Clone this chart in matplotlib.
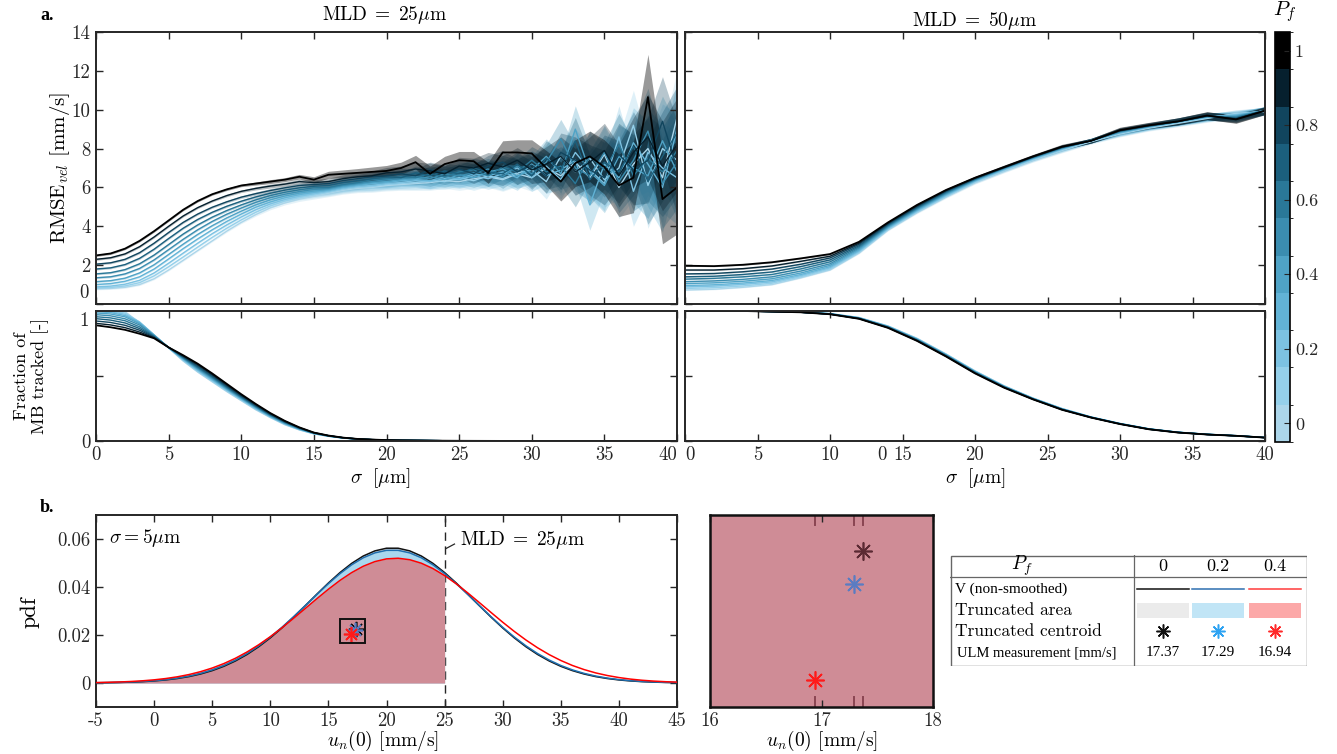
import numpy as np
import matplotlib
matplotlib.use("Agg")
import matplotlib.pyplot as plt
from matplotlib.colors import ListedColormap, BoundaryNorm
from matplotlib.cm import ScalarMappable
from matplotlib.patches import Rectangle

plt.rcParams['font.family'] = 'serif'
plt.rcParams['font.serif'] = ['cmr10', 'DejaVu Serif']
plt.rcParams['mathtext.fontset'] = 'cm'
plt.rcParams['axes.formatter.use_mathtext'] = True
plt.rcParams['axes.unicode_minus'] = False

# ---------------- data ----------------
pf_levels = [0.0, 0.1, 0.2, 0.3, 0.4, 0.5, 0.6, 0.7, 0.8, 0.9, 1.0]
pf_colors = ['#acd6ea', '#95d0ea', '#7cc2e2', '#62b3d6', '#4fa3c6', '#3b8db0',
             '#2a7898', '#1b5f7d', '#11455e', '#06202e', '#000000']

# RMSE, MLD = 25 um, sigma = 0..40 step 1
sigma_25 = list(range(41))
rmse_25 = [
    [0.78, 0.80, 0.86, 1.00, 1.30, 1.75, 2.25, 2.75, 3.25, 3.75, 4.20, 4.60, 4.95, 5.20, 5.40, 5.55,
     5.70, 5.85, 5.95, 6.00, 6.10, 6.15, 6.20, 6.25, 6.35, 6.30, 6.45, 6.55, 6.40, 6.70, 6.50,
     7.00, 6.60, 7.30, 6.50, 7.70, 6.00, 7.20, 8.00, 6.50, 9.60],
    [0.82, 0.85, 0.93, 1.10, 1.45, 1.92, 2.42, 2.93, 3.43, 3.90, 4.33, 4.72, 5.05, 5.30, 5.48, 5.62,
     5.75, 5.90, 6.00, 6.05, 6.15, 6.20, 6.25, 6.35, 6.30, 6.50, 6.35, 6.60, 6.45, 6.75, 6.90,
     6.30, 7.60, 6.80, 7.50, 6.40, 7.00, 9.20, 6.10, 8.00, 7.40],
    [0.88, 0.92, 1.02, 1.22, 1.60, 2.10, 2.62, 3.13, 3.62, 4.07, 4.48, 4.85, 5.15, 5.38, 5.55, 5.68,
     5.80, 5.95, 6.05, 6.10, 6.20, 6.25, 6.35, 6.30, 6.45, 6.40, 6.60, 6.45, 6.70, 7.00, 6.50,
     7.10, 6.40, 7.80, 6.90, 6.20, 8.60, 5.80, 7.80, 7.00, 6.50],
    [1.00, 1.05, 1.17, 1.40, 1.80, 2.32, 2.85, 3.35, 3.82, 4.25, 4.63, 4.98, 5.25, 5.47, 5.63, 5.75,
     5.85, 6.00, 6.10, 6.20, 6.25, 6.35, 6.40, 6.35, 6.55, 6.45, 6.70, 6.60, 6.80, 6.50, 7.20,
     6.60, 6.90, 7.40, 5.10, 7.20, 6.50, 8.30, 7.20, 6.00, 9.00],
    [1.15, 1.20, 1.33, 1.60, 2.02, 2.55, 3.08, 3.58, 4.03, 4.43, 4.78, 5.10, 5.36, 5.56, 5.71, 5.82,
     5.90, 6.05, 6.15, 6.25, 6.30, 6.40, 6.45, 6.55, 6.40, 6.65, 6.50, 6.80, 6.95, 6.60, 6.90,
     7.60, 6.70, 9.00, 6.80, 6.10, 7.60, 7.00, 6.60, 8.40, 6.80],
    [1.35, 1.40, 1.55, 1.83, 2.27, 2.80, 3.33, 3.82, 4.25, 4.62, 4.94, 5.23, 5.47, 5.65, 5.79, 5.90,
     5.95, 6.10, 6.20, 6.30, 6.40, 6.45, 6.55, 6.45, 6.70, 6.60, 6.75, 6.95, 6.55, 7.10, 6.70,
     7.30, 8.50, 7.00, 6.60, 7.80, 6.30, 7.40, 8.90, 6.20, 7.30],
    [1.55, 1.61, 1.77, 2.07, 2.52, 3.06, 3.60, 4.07, 4.47, 4.81, 5.10, 5.36, 5.58, 5.75, 5.88, 5.98,
     6.00, 6.15, 6.25, 6.40, 6.45, 6.55, 6.50, 6.70, 6.55, 6.80, 6.90, 6.60, 7.05, 6.80, 7.40,
     6.80, 7.10, 6.20, 7.60, 6.90, 8.20, 6.60, 7.50, 6.80, 7.90],
    [1.80, 1.86, 2.03, 2.35, 2.82, 3.37, 3.90, 4.35, 4.72, 5.03, 5.29, 5.51, 5.70, 5.86, 5.98, 6.06,
     6.10, 6.25, 6.35, 6.45, 6.55, 6.50, 6.75, 6.60, 6.85, 6.70, 7.00, 6.80, 6.70, 7.20, 6.60,
     7.50, 6.90, 8.40, 6.40, 7.30, 6.80, 8.10, 6.30, 7.60, 8.80],
    [2.05, 2.12, 2.30, 2.64, 3.13, 3.68, 4.20, 4.63, 4.98, 5.26, 5.50, 5.68, 5.84, 5.98, 6.10, 6.15,
     6.20, 6.35, 6.45, 6.55, 6.60, 6.70, 6.60, 6.90, 6.75, 6.95, 6.70, 7.10, 7.30, 6.80, 7.15,
     6.60, 7.80, 7.40, 6.90, 6.50, 7.70, 6.90, 7.40, 9.40, 7.00],
    [2.30, 2.38, 2.58, 2.95, 3.45, 4.00, 4.53, 4.96, 5.30, 5.58, 5.80, 5.95, 6.07, 6.17, 6.30, 6.25,
     6.30, 6.45, 6.55, 6.60, 6.75, 6.80, 6.95, 6.85, 6.70, 7.10, 7.00, 7.25, 7.05, 7.40, 6.90,
     7.20, 7.60, 6.80, 7.30, 7.90, 6.60, 7.80, 8.60, 7.10, 8.20],
    [2.50, 2.60, 2.85, 3.25, 3.75, 4.30, 4.85, 5.30, 5.65, 5.90, 6.10, 6.20, 6.30, 6.40, 6.55, 6.40,
     6.65, 6.70, 6.75, 6.80, 6.85, 7.00, 7.30, 6.70, 7.20, 7.40, 7.35, 6.75, 7.80, 7.80, 7.75,
     7.00, 6.30, 7.25, 7.60, 7.05, 6.10, 6.50, 10.65, 5.40, 6.00],
]
rmse_25_std = [0.05, 0.05, 0.05, 0.05, 0.05, 0.05, 0.05, 0.05, 0.05, 0.06, 0.06,
               0.08, 0.10, 0.10, 0.12, 0.15, 0.18, 0.20, 0.22, 0.25, 0.28,
               0.30, 0.35, 0.40, 0.40, 0.45, 0.50, 0.55, 0.60, 0.65, 0.70,
               0.90, 1.00, 1.20, 1.30, 1.40, 1.60, 1.80, 2.20, 2.30, 2.40]

# RMSE, MLD = 50 um, sigma = 0..40 step 2
sigma_50 = list(range(0, 41, 2))
rmse_50 = [
    [0.72, 0.76, 0.86, 1.00, 1.35, 1.75, 2.62, 3.80, 4.70, 5.50, 6.25, 6.85, 7.40, 7.90, 8.35, 8.75, 9.05, 9.30, 9.55, 9.80, 9.90],
    [0.80, 0.84, 0.93, 1.07, 1.40, 1.80, 2.66, 3.84, 4.74, 5.54, 6.28, 6.88, 7.43, 7.93, 8.38, 8.78, 9.08, 9.33, 9.58, 9.78, 9.92],
    [0.88, 0.92, 1.01, 1.14, 1.46, 1.86, 2.71, 3.88, 4.78, 5.58, 6.31, 6.91, 7.46, 7.96, 8.40, 8.80, 9.10, 9.35, 9.60, 9.75, 9.94],
    [0.95, 0.99, 1.08, 1.21, 1.52, 1.92, 2.76, 3.92, 4.82, 5.62, 6.34, 6.94, 7.49, 7.99, 8.42, 8.82, 9.12, 9.37, 9.62, 9.72, 9.95],
    [1.05, 1.09, 1.17, 1.30, 1.60, 1.99, 2.82, 3.96, 4.86, 5.66, 6.37, 6.97, 7.51, 8.01, 8.41, 8.85, 9.14, 9.38, 9.64, 9.68, 9.96],
    [1.15, 1.19, 1.27, 1.40, 1.70, 2.07, 2.88, 4.00, 4.90, 5.70, 6.40, 6.99, 7.53, 8.03, 8.41, 8.87, 9.15, 9.39, 9.65, 9.64, 9.96],
    [1.28, 1.32, 1.40, 1.52, 1.81, 2.17, 2.94, 4.04, 4.94, 5.74, 6.42, 7.00, 7.55, 8.05, 8.40, 8.89, 9.16, 9.39, 9.66, 9.60, 9.96],
    [1.40, 1.43, 1.52, 1.65, 1.93, 2.27, 3.00, 4.08, 4.98, 5.78, 6.44, 7.01, 7.56, 8.06, 8.40, 8.91, 9.17, 9.40, 9.67, 9.57, 9.96],
    [1.55, 1.57, 1.66, 1.80, 2.05, 2.37, 3.07, 4.12, 5.02, 5.81, 6.46, 7.02, 7.57, 8.07, 8.40, 8.92, 9.18, 9.40, 9.68, 9.54, 9.95],
    [1.75, 1.75, 1.82, 1.96, 2.20, 2.46, 3.13, 4.16, 5.06, 5.84, 6.48, 7.03, 7.58, 8.08, 8.40, 8.93, 9.19, 9.40, 9.69, 9.52, 9.95],
    [1.97, 1.95, 2.02, 2.15, 2.35, 2.57, 3.20, 4.20, 5.10, 5.87, 6.50, 7.05, 7.60, 8.10, 8.40, 8.95, 9.20, 9.40, 9.70, 9.50, 9.95],
]
rmse_50_std = [0.03, 0.03, 0.03, 0.03, 0.03, 0.03, 0.04, 0.04, 0.05, 0.06, 0.08,
               0.10, 0.10, 0.12, 0.12, 0.15, 0.15, 0.18, 0.20, 0.20, 0.20]

# fraction of MB tracked, MLD = 25 um: sigma 0..20 per curve, shared tail 21..40
frac_25_head = [
    [1.000, 1.000, 0.995, 0.910, 0.815, 0.715, 0.615, 0.530, 0.455, 0.380, 0.310, 0.240, 0.180, 0.125, 0.085, 0.055, 0.036, 0.022, 0.014, 0.009, 0.006],
    [1.000, 0.998, 0.985, 0.915, 0.815, 0.716, 0.620, 0.536, 0.461, 0.386, 0.315, 0.245, 0.183, 0.128, 0.087, 0.056, 0.037, 0.023, 0.014, 0.009, 0.006],
    [1.000, 0.995, 0.975, 0.915, 0.816, 0.717, 0.625, 0.542, 0.467, 0.392, 0.320, 0.249, 0.186, 0.131, 0.089, 0.057, 0.037, 0.023, 0.015, 0.010, 0.006],
    [0.995, 0.988, 0.965, 0.910, 0.815, 0.718, 0.630, 0.548, 0.473, 0.397, 0.324, 0.254, 0.189, 0.134, 0.091, 0.058, 0.038, 0.023, 0.015, 0.010, 0.006],
    [0.985, 0.977, 0.955, 0.902, 0.812, 0.719, 0.634, 0.554, 0.479, 0.402, 0.329, 0.258, 0.193, 0.137, 0.093, 0.059, 0.039, 0.024, 0.015, 0.010, 0.006],
    [0.972, 0.963, 0.940, 0.892, 0.810, 0.720, 0.638, 0.560, 0.485, 0.407, 0.333, 0.262, 0.196, 0.140, 0.095, 0.060, 0.039, 0.024, 0.015, 0.010, 0.006],
    [0.956, 0.947, 0.925, 0.878, 0.806, 0.720, 0.642, 0.566, 0.491, 0.413, 0.338, 0.266, 0.200, 0.143, 0.097, 0.061, 0.040, 0.025, 0.015, 0.010, 0.007],
    [0.941, 0.930, 0.908, 0.865, 0.802, 0.720, 0.646, 0.572, 0.497, 0.418, 0.342, 0.270, 0.203, 0.146, 0.099, 0.062, 0.040, 0.025, 0.016, 0.010, 0.007],
    [0.923, 0.912, 0.890, 0.852, 0.798, 0.720, 0.650, 0.580, 0.505, 0.425, 0.348, 0.275, 0.207, 0.149, 0.101, 0.063, 0.041, 0.025, 0.016, 0.011, 0.007],
    [0.905, 0.893, 0.872, 0.838, 0.794, 0.720, 0.655, 0.588, 0.512, 0.432, 0.354, 0.280, 0.211, 0.152, 0.103, 0.064, 0.041, 0.026, 0.016, 0.011, 0.007],
    [0.890, 0.875, 0.855, 0.825, 0.790, 0.720, 0.660, 0.595, 0.520, 0.440, 0.360, 0.285, 0.215, 0.155, 0.105, 0.065, 0.042, 0.026, 0.016, 0.011, 0.007],
]
frac_25_tail = [0.005, 0.004, 0.003, 0.0022, 0.0016, 0.0012, 0.0009, 0.0007, 0.0005, 0.0004,
                0.0003, 0.0002, 0.0002, 0.0001, 0.0001, 0.0001, 0.0, 0.0, 0.0, 0.0]

# fraction of MB tracked, MLD = 50 um, sigma 0..40 step 2
frac_50 = [
    [1.000, 1.000, 1.000, 0.997, 0.992, 0.980, 0.950, 0.885, 0.790, 0.670, 0.540, 0.425, 0.330, 0.250, 0.185, 0.135, 0.094, 0.068, 0.052, 0.041, 0.027],
    [1.000, 1.000, 1.000, 0.997, 0.992, 0.980, 0.949, 0.884, 0.788, 0.668, 0.538, 0.424, 0.329, 0.249, 0.185, 0.135, 0.094, 0.068, 0.052, 0.041, 0.027],
    [1.000, 1.000, 1.000, 0.997, 0.992, 0.979, 0.948, 0.882, 0.786, 0.666, 0.536, 0.422, 0.328, 0.248, 0.184, 0.134, 0.093, 0.067, 0.052, 0.041, 0.027],
    [1.000, 1.000, 1.000, 0.996, 0.991, 0.979, 0.947, 0.881, 0.784, 0.664, 0.534, 0.421, 0.327, 0.247, 0.184, 0.134, 0.093, 0.067, 0.051, 0.041, 0.027],
    [1.000, 1.000, 1.000, 0.996, 0.991, 0.978, 0.946, 0.879, 0.782, 0.662, 0.532, 0.419, 0.326, 0.246, 0.183, 0.133, 0.092, 0.067, 0.051, 0.041, 0.027],
    [1.000, 1.000, 1.000, 0.996, 0.991, 0.978, 0.945, 0.878, 0.780, 0.660, 0.530, 0.418, 0.325, 0.245, 0.183, 0.133, 0.092, 0.067, 0.051, 0.040, 0.027],
    [1.000, 1.000, 1.000, 0.996, 0.991, 0.977, 0.944, 0.876, 0.778, 0.658, 0.528, 0.416, 0.324, 0.244, 0.182, 0.132, 0.092, 0.066, 0.051, 0.040, 0.026],
    [1.000, 1.000, 1.000, 0.996, 0.990, 0.977, 0.943, 0.875, 0.776, 0.656, 0.526, 0.415, 0.323, 0.243, 0.182, 0.132, 0.091, 0.066, 0.050, 0.040, 0.026],
    [1.000, 1.000, 1.000, 0.995, 0.990, 0.976, 0.942, 0.873, 0.774, 0.654, 0.524, 0.413, 0.322, 0.242, 0.181, 0.131, 0.091, 0.066, 0.050, 0.040, 0.026],
    [1.000, 1.000, 1.000, 0.995, 0.990, 0.976, 0.941, 0.872, 0.772, 0.652, 0.522, 0.412, 0.321, 0.241, 0.181, 0.131, 0.090, 0.065, 0.050, 0.040, 0.026],
    [1.000, 1.000, 1.000, 0.995, 0.990, 0.975, 0.940, 0.870, 0.770, 0.650, 0.520, 0.410, 0.320, 0.240, 0.180, 0.130, 0.090, 0.065, 0.050, 0.040, 0.026],
]

# panel b: velocity pdf, u_n(0) = -5..45 mm/s
u_n = list(range(-5, 46))
pdf_v = [0.000087, 0.000143, 0.000231, 0.000366, 0.000566, 0.00086, 0.00128, 0.00187, 0.00267, 0.00375,
         0.00516, 0.00695, 0.00918, 0.01189, 0.0151, 0.0188, 0.02294, 0.02744, 0.03217, 0.03698,
         0.04167, 0.04602, 0.04984, 0.05291, 0.05505, 0.05616, 0.05616, 0.05505, 0.05291, 0.04984,
         0.04602, 0.04167, 0.03698, 0.03217, 0.02744, 0.02294, 0.0188, 0.0151, 0.01189, 0.00918,
         0.00695, 0.00516, 0.00375, 0.00267, 0.00187, 0.00128, 0.00086, 0.000566, 0.000366, 0.000231,
         0.000143]
pdf_pf02 = [0.000105, 0.00017, 0.00027, 0.00042, 0.000642, 0.000962, 0.001416, 0.002044, 0.002892, 0.004013,
            0.005463, 0.007297, 0.009558, 0.01228, 0.01548, 0.01914, 0.02321, 0.02761, 0.03221, 0.03687,
            0.04139, 0.04558, 0.04924, 0.05217, 0.05422, 0.05528, 0.05528, 0.05422, 0.05217, 0.04924,
            0.04558, 0.04139, 0.03687, 0.03221, 0.02761, 0.02321, 0.01914, 0.01548, 0.01228, 0.009558,
            0.007297, 0.005463, 0.004013, 0.002892, 0.002044, 0.001416, 0.000962, 0.000642, 0.00042, 0.00027,
            0.00017]
pdf_pf04 = [0.000182, 0.00028, 0.000423, 0.000628, 0.000917, 0.001317, 0.00186, 0.00258, 0.00352, 0.00473,
            0.00624, 0.00809, 0.01031, 0.01293, 0.01593, 0.0193, 0.02299, 0.02693, 0.03101, 0.0351,
            0.03907, 0.04276, 0.04599, 0.04865, 0.05059, 0.05172, 0.05198, 0.05137, 0.04991, 0.04767,
            0.04476, 0.04133, 0.03751, 0.03347, 0.02937, 0.02533, 0.02148, 0.01791, 0.01468, 0.01183,
            0.00938, 0.0073, 0.0056, 0.00421, 0.00312, 0.00227, 0.00162, 0.00114, 0.00079, 0.00054,
            0.00036]
mld_b = 25
centroid_x = [17.37, 17.29, 16.94]
centroid_y = [0.0225, 0.0220, 0.0205]
table_pf = ['0', '0.2', '0.4']
table_ulm = ['17.37', '17.29', '16.94']

# ---------------- figure ----------------
W, H = 1337, 754
fig = plt.figure(figsize=(W / 100, H / 100), dpi=100)
TICK = 13.5


def px_axes(x0, y0, x1, y1):
    return fig.add_axes([x0 / W, 1 - y1 / H, (x1 - x0) / W, (y1 - y0) / H])


def style(ax, size=TICK):
    ax.tick_params(direction='in', top=True, right=True, length=5, width=1,
                   colors='#262626', labelsize=size, pad=4)
    for s in ax.spines.values():
        s.set_linewidth(1.4)
        s.set_color('#262626')


ax_tl = px_axes(96, 32, 677, 304)
ax_tr = px_axes(685, 32, 1265, 304)
ax_bl = px_axes(96, 311, 677, 441)
ax_br = px_axes(685, 311, 1265, 441)
cax = px_axes(1275, 32, 1290, 442)

# RMSE panels
for ax, xs, rows, std in [(ax_tl, sigma_25, rmse_25, rmse_25_std),
                          (ax_tr, sigma_50, rmse_50, rmse_50_std)]:
    xs = np.array(xs)
    std = np.array(std)
    for row, c in zip(rows, pf_colors):
        row = np.array(row)
        alpha = 0.4 if c == '#000000' else 0.3
        ax.fill_between(xs, row - std, row + std, color=c, alpha=alpha, lw=0)
    for row, c in zip(rows, pf_colors):
        ax.plot(xs, row, color=c, lw=1.3 if c == '#000000' else 1.0)
    ax.set_xlim(0, 40)
    ax.set_ylim(0, 14)
    ax.set_xticks(range(0, 41, 5))
    ax.set_xticklabels([])
    ax.set_yticks(range(0, 15, 2))
    style(ax)
ax_tl.set_yticklabels([''] + [str(v) for v in range(2, 15, 2)])
ax_tl.text(-0.012, 0.04, '0', transform=ax_tl.transAxes, ha='right', va='center', fontsize=TICK,
           color='#262626')
ax_tr.set_yticklabels([])

# fraction panels
frac_25 = [row + frac_25_tail for row in frac_25_head]
for ax, xs, rows in [(ax_bl, sigma_25, frac_25), (ax_br, sigma_50, frac_50)]:
    for row, c in zip(rows, pf_colors):
        ax.plot(xs, row, color=c, lw=1.3 if c == '#000000' else 1.0)
    ax.set_xlim(0, 40)
    ax.set_ylim(0, 1)
    ax.set_xticks(range(0, 41, 5))
    ax.set_xticklabels([str(v) for v in range(0, 41, 5)])
    ax.set_yticks([0, 0.5])
    style(ax)
ax_bl.get_xticklabels()[-1].set_horizontalalignment('right')
ax_bl.set_yticklabels(['0', ''])
ax_bl.text(-0.012, 0.92, '1', transform=ax_bl.transAxes, ha='right', va='center', fontsize=TICK,
           color='#262626')
ax_br.set_yticklabels([])
ax_br.get_xticklabels()[0].set_horizontalalignment('left')
ax_br.text(13.55, -0.04, '0', transform=ax_br.get_xaxis_transform(), ha='center', va='top',
           fontsize=TICK, color='#262626')

# colorbar
cmap = ListedColormap(pf_colors)
norm = BoundaryNorm(np.linspace(-0.05, 1.05, 12), cmap.N)
cb = fig.colorbar(ScalarMappable(norm=norm, cmap=cmap), cax=cax, ticks=[0, 0.2, 0.4, 0.6, 0.8, 1.0])
cb.ax.set_yticklabels(['0', '0.2', '0.4', '0.6', '0.8', '1'])
cb.ax.tick_params(direction='in', length=4, labelsize=13, colors='#262626')
cb.outline.set_linewidth(1.2)
fig.text(1285 / W, 1 - 12 / H, r'$P_f$', ha='center', va='center', fontsize=15)

# labels / titles panel a
fig.text(40 / W, 1 - 15 / H, 'a.', family='Liberation Serif', weight='bold', fontsize=13,
         ha='left', va='center')
fig.text(385 / W, 1 - 15 / H, r'MLD$\;=\;25\mu$m', ha='center', va='center', fontsize=14)
fig.text(975 / W, 1 - 21 / H, r'MLD$\;=\;50\mu$m', ha='center', va='center', fontsize=14)
fig.text(60 / W, 1 - 168 / H, r'RMSE$_{vel}$ [mm/s]', rotation=90, ha='center', va='center',
         fontsize=15)
fig.text(31 / W, 1 - 376 / H, 'Fraction of\nMB tracked [-]', rotation=90, ha='center',
         va='center', fontsize=13, linespacing=1.2)
fig.text(380 / W, 1 - 478 / H, r'$\sigma\ \ [\mu$m]', ha='center', va='center', fontsize=14)
fig.text(975 / W, 1 - 478 / H, r'$\sigma\ \ [\mu$m]', ha='center', va='center', fontsize=14)

# ---------------- panel b ----------------
ax_b = px_axes(96, 515, 677, 707)
u = np.array(u_n)
sel = u <= mld_b
ax_b.axvline(mld_b, color='#262626', lw=1.0, ls=(0, (6, 4)), zorder=1)
ax_b.fill_between(u[sel], 0, np.array(pdf_v)[sel], color='#d8d8d8', lw=0, zorder=2)
ax_b.fill_between(u[sel], 0, np.array(pdf_pf02)[sel], color='#a9d7ee', lw=0, zorder=2)
ax_b.fill_between(u[sel], 0, np.array(pdf_pf04)[sel], color='#cf8c96', lw=0, zorder=2)
ax_b.plot(u, pdf_v, color='#111111', lw=1.1, zorder=3)
ax_b.plot(u, pdf_pf02, color='#1f6fb0', lw=1.1, zorder=3)
ax_b.plot(u, pdf_pf04, color='#ff0000', lw=1.1, zorder=3)
star = (8, 2, 0)
star_colors = ['#111111', '#5a7cc2', '#ff1a1a']
for cx, cy, c in zip(centroid_x, centroid_y, star_colors):
    ax_b.plot(cx, cy, marker=star, ms=11, mew=1.2, color=c, ls='none', zorder=4)
ax_b.add_patch(Rectangle((16, 0.0165), 2.15, 0.010, fill=False, ec='#111111', lw=1.4, zorder=5))
ax_b.plot([25.15, 25.85], [0.0561, 0.0579], color='#262626', lw=0.9, zorder=4)
ax_b.text(26.3, 0.0596, r'MLD$\;=\;25\mu$m', ha='left', va='center', fontsize=14)
ax_b.text(-3.9, 0.0605, r'$\sigma=5\mu$m', ha='left', va='center', fontsize=14)
ax_b.set_xlim(-5, 45)
ax_b.set_ylim(-0.01, 0.07)
ax_b.set_xticks(range(-5, 46, 5))
ax_b.set_xticklabels([str(v) for v in range(-5, 46, 5)])
ax_b.set_yticks([0, 0.02, 0.04, 0.06])
ax_b.set_yticklabels(['0', '0.02', '0.04', '0.06'])
style(ax_b)
fig.text(40 / W, 1 - 507 / H, 'b.', family='Liberation Serif', weight='bold', fontsize=13,
         ha='left', va='center')
fig.text(30 / W, 1 - 612 / H, 'pdf', rotation=90, ha='center', va='center', fontsize=16)
fig.text(383 / W, 1 - 741 / H, r'$u_n(0)$ [mm/s]', ha='center', va='center', fontsize=14)

# inset
ax_in = px_axes(710, 515, 933, 707)
ax_in.set_facecolor('#cf8c96')
ax_in.set_xlim(16, 18)
ax_in.set_ylim(0.020082, 0.023067)
for cx in centroid_x:
    ax_in.axvline(cx, ymin=0, ymax=0.05, color='#8a4552', lw=1.4)
    ax_in.axvline(cx, ymin=0.95, ymax=1, color='#8a4552', lw=1.4)
in_colors = ['#5b2a33', '#5a7cc2', '#ff1a1a']
for cx, cy, c in zip(centroid_x, centroid_y, in_colors):
    ax_in.plot(cx, cy, marker=star, ms=13, mew=1.2, color=c, ls='none')
ax_in.set_xticks([16, 17, 18])
ax_in.set_xticklabels(['16', '17', '18'])
ax_in.set_yticks([])
ax_in.tick_params(direction='in', top=True, length=5, width=1, colors='#262626',
                  labelsize=TICK, pad=4)
for s in ax_in.spines.values():
    s.set_linewidth(1.8)
    s.set_color('#111111')
fig.text(822 / W, 1 - 741 / H, r'$u_n(0)$ [mm/s]', ha='center', va='center', fontsize=14)

# table
ax_t = px_axes(950, 555, 1307, 666)
ax_t.set_xlim(950, 1307)
ax_t.set_ylim(666, 555)
ax_t.axis('off')
ax_t.add_patch(Rectangle((950.5, 555.5), 356, 110, fill=False, ec='#666666', lw=1.0))
ax_t.plot([950, 1307], [577, 577], color='#666666', lw=0.9)
ax_t.plot([1134, 1134], [555, 666], color='#666666', lw=0.9)
col_x = [1163, 1218, 1275]
ax_t.text(1022, 566, r'$P_f$', ha='center', va='center', fontsize=14)
for cx, lab in zip(col_x, table_pf):
    ax_t.text(cx, 566, lab, ha='center', va='center', fontsize=13)
ax_t.text(955, 589, 'V (non-smoothed)', ha='left', va='center', family='Liberation Serif',
          fontsize=11)
ax_t.text(955, 610, 'Truncated area', ha='left', va='center', fontsize=12.5)
ax_t.text(955, 631, 'Truncated centroid', ha='left', va='center', fontsize=12.5)
ax_t.text(957, 653, 'ULM measurement [mm/s]', ha='left', va='center', family='Liberation Serif',
          fontsize=10.5)
line_cols = ['#111111', '#2e6fb0', '#ff3b3b']
patch_cols = ['#ebebeb', '#c1e5f6', '#fca8a8']
tab_star_cols = ['#111111', '#2ea3f2', '#ff2a2a']
for i, cx in enumerate(col_x):
    ax_t.plot([cx - 26, cx + 26], [589, 589], color=line_cols[i], lw=1.1)
    ax_t.add_patch(Rectangle((cx - 26, 603), 52, 15, color=patch_cols[i], lw=0))
    ax_t.plot(cx, 631, marker=star, ms=10, mew=1.1, color=tab_star_cols[i], ls='none')
    ax_t.text(cx, 653, table_ulm[i], ha='center', va='center', family='Liberation Serif',
              fontsize=11)

fig.savefig('out.png', dpi=100)
